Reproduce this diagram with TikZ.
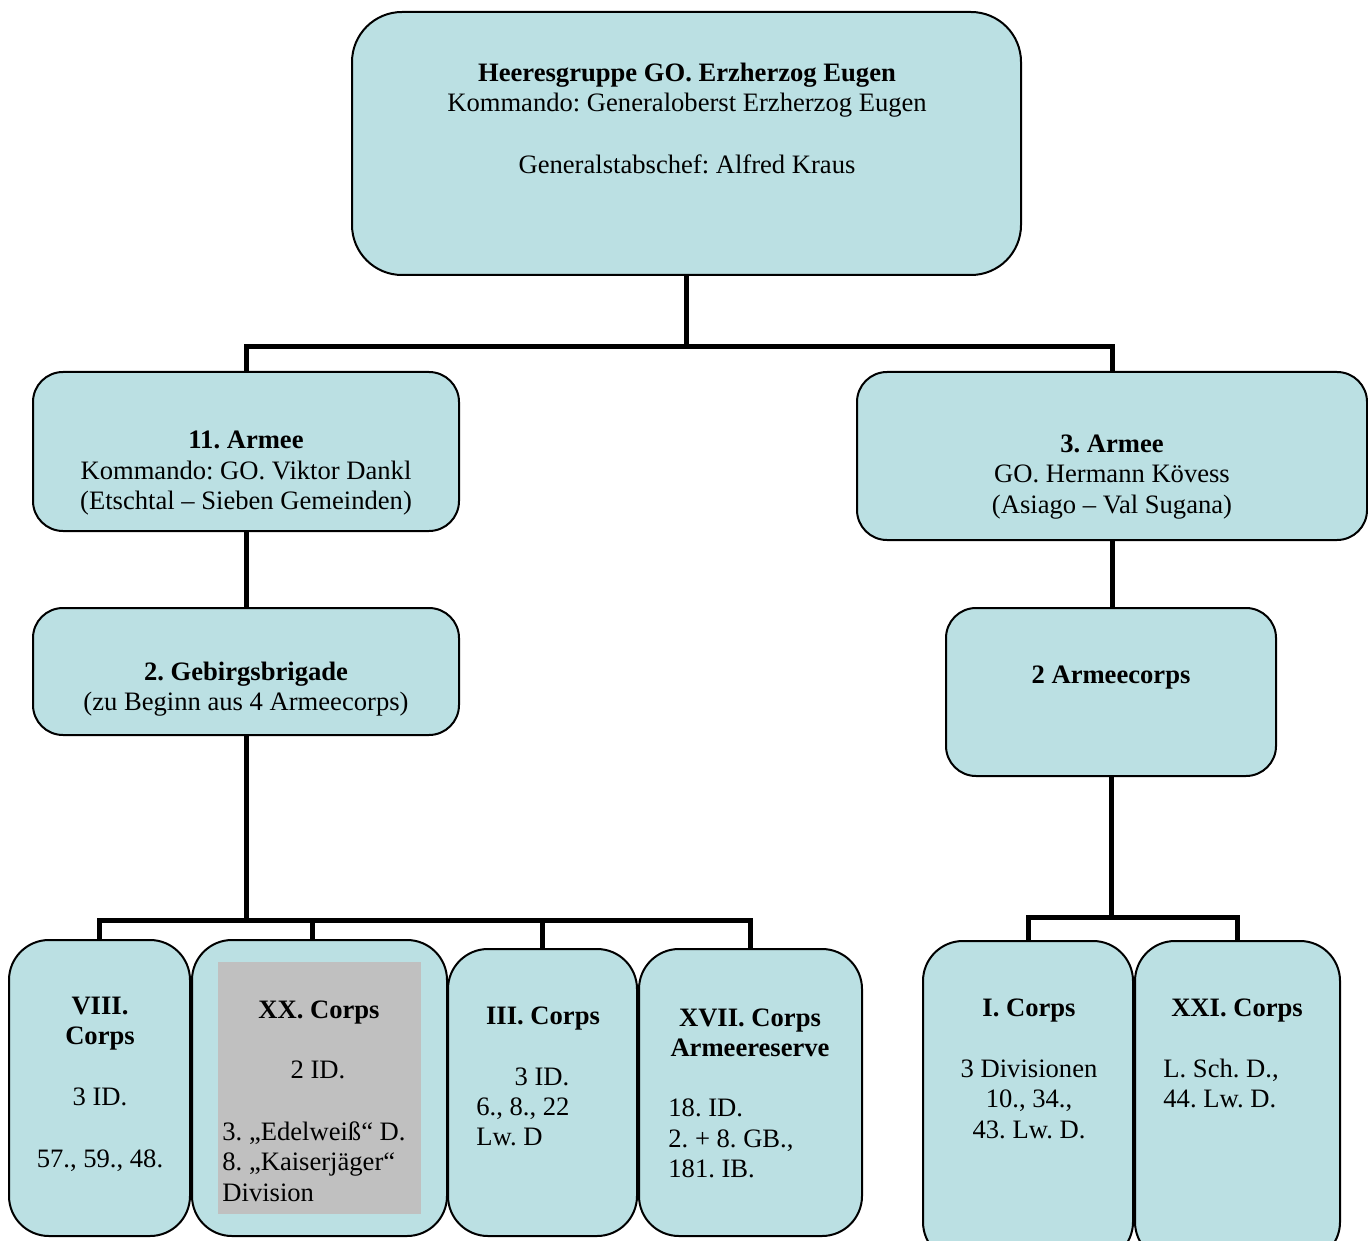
\documentclass[tikz,border=0pt]{standalone}
\usepackage{fontspec}
\setmainfont{Liberation Serif}
\definecolor{boxblue}{HTML}{BBE0E3}
\definecolor{graybg}{HTML}{C0C0C0}
\begin{document}
\frenchspacing
\begin{tikzpicture}[x=0.5pt,y=-0.5pt,
  box/.style={draw=black, line width=1pt, fill=boxblue, rounded corners=#1, inner sep=0pt},
  conn/.style={draw=black, line width=2.5pt, line join=miter},
  t/.style={anchor=base, inner sep=0pt, font=\fontsize{13.3pt}{15pt}\selectfont},
  tl/.style={t, anchor=base west},
  tb/.style={t, font=\fontsize{13.3pt}{15pt}\selectfont\bfseries}]
\useasboundingbox (0,0) rectangle (1368,1240);
% boxes
\node[box=25pt, minimum width=334.5pt, minimum height=131.5pt] (top) at (686.5,143.5) {};
\node[box=15pt, minimum width=213pt, minimum height=79.5pt] (a11) at (246,451.5) {};
\node[box=15pt, minimum width=255pt, minimum height=84pt] (a3) at (1112,456) {};
\node[box=15pt, minimum width=213pt, minimum height=63.5pt] (geb) at (246,671.5) {};
\node[box=15pt, minimum width=165pt, minimum height=84pt] (a2c) at (1111,692) {};
\node[box=20pt, minimum width=90.5pt, minimum height=148pt] (viii) at (99.5,1088) {};
\node[box=20pt, minimum width=127.5pt, minimum height=148pt] (xx) at (319.5,1088) {};
\node[fill=graybg, inner sep=0pt, minimum width=101.5pt, minimum height=126pt] (xxg) at (319.5,1088) {};
\node[box=20pt, minimum width=94.5pt, minimum height=143.5pt] (iii) at (542.5,1092.5) {};
\node[box=20pt, minimum width=111.5pt, minimum height=143.5pt] (xvii) at (750.5,1092.5) {};
\node[box=20pt, minimum width=105pt, minimum height=160.5pt] (ic) at (1028,1101.5) {};
\node[box=20pt, minimum width=102.5pt, minimum height=160.5pt] (xxi) at (1237.5,1101.5) {};
% junctions
\coordinate (j1) at (686.5,347);
\coordinate (j2) at (246,920);
\coordinate (j3) at (1111,917);
% connectors
\draw[conn] (top.south) -- (j1);
\draw[conn] (j1) -| (a11.north);
\draw[conn] (j1) -| (a3.north);
\draw[conn] (a11.south) -- (geb.north);
\draw[conn] (geb.south) -- (j2);
\draw[conn] (j2) -| (viii.north);
\draw[conn] (j2) -| ([xshift=-3.5pt]xx.north);
\draw[conn] (j2) -| (iii.north);
\draw[conn] (j2) -| (xvii.north);
\draw[conn] (a3.south) -- (a3.south |- a2c.north);
\draw[conn] (a2c.south) -- (j3);
\draw[conn] (j3) -| (ic.north);
\draw[conn] (j3) -| (xxi.north);
% texts
\node[tb] (top1) at (687,82) {Heeresgruppe GO. Erzherzog Eugen};
\node[t] (top2) at (687,112) {Kommando: Generaloberst Erzherzog Eugen};
\node[t] (top3) at (687,174) {Generalstabschef: Alfred Kraus};
\node[tb] (a111) at (246,448) {11. Armee};
\node[t] (a112) at (246,479) {Kommando: GO. Viktor Dankl};
\node[t] (a113) at (246,509) {(Etschtal – Sieben Gemeinden)};
\node[tb] (a31) at (1112,452) {3. Armee};
\node[t] (a32) at (1112,482) {GO. Hermann Kövess};
\node[t] (a33) at (1112,513) {(Asiago – Val Sugana)};
\node[tb] (geb1) at (246,680) {2. Gebirgsbrigade};
\node[t] (geb2) at (246,710) {(zu Beginn aus 4 Armeecorps)};
\node[tb] (a2c1) at (1111,683) {2 Armeecorps};
\node[tb] (viii1) at (100,1014) {VIII.};
\node[tb] (viii2) at (100,1044) {Corps};
\node[t] (viii3) at (100,1105) {3 ID.};
\node[t] (viii4) at (100,1167) {57., 59., 48.};
\node[tb] (xx1) at (319,1018) {XX. Corps};
\node[t] (xx2) at (318,1078) {2 ID.};
\node[tl] (xx3) at (222,1140) {3. „Edelweiß“ D.};
\node[tl] (xx4) at (222,1170) {8. „Kaiserjäger“};
\node[tl] (xx5) at (222,1201) {Division};
\node[tb] (iii1) at (543,1024) {III. Corps};
\node[t] (iii2) at (542,1085) {3 ID.};
\node[tl] (iii3) at (476,1115) {6., 8., 22};
\node[tl] (iii4) at (476,1145) {Lw. D};
\node[tb] (xvii1) at (750,1026) {XVII. Corps};
\node[tb] (xvii2) at (750,1056) {Armeereserve};
\node[tl] (xvii3) at (668,1116) {18. ID.};
\node[tl] (xvii4) at (668,1147) {2. + 8. GB.,};
\node[tl] (xvii5) at (668,1177) {181. IB.};
\node[tb] (ic1) at (1029,1016) {I. Corps};
\node[t] (ic2) at (1029,1077) {3 Divisionen};
\node[t] (ic3) at (1029,1107) {10., 34.,};
\node[t] (ic4) at (1029,1138) {43. Lw. D.};
\node[tb] (xxi1) at (1237,1016) {XXI. Corps};
\node[tl] (xxi2) at (1163,1077) {L. Sch. D.,};
\node[tl] (xxi3) at (1163,1107) {44. Lw. D.};
\end{tikzpicture}
\end{document}
